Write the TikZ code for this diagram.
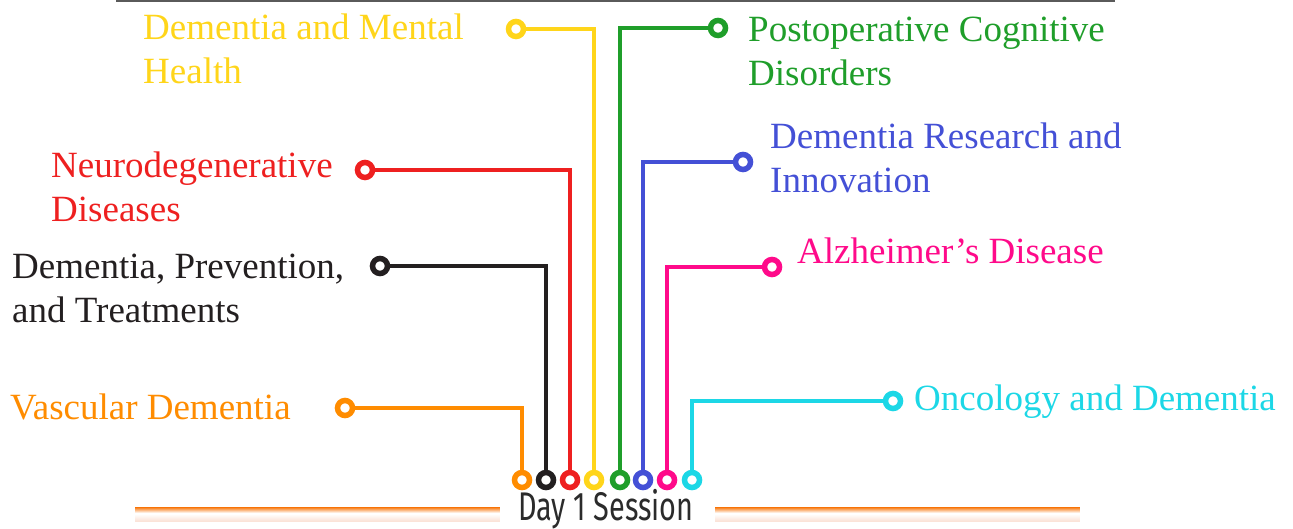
\documentclass[tikz,border=0pt]{standalone}
\usepackage{fontspec}
\setmainfont{Liberation Serif}
\newfontfamily\dayfont[FakeStretch=0.72]{Fira Sans}
\usetikzlibrary{positioning}

\definecolor{dorange}{HTML}{FF8C00}
\definecolor{dblack}{HTML}{231F20}
\definecolor{dred}{HTML}{EE2020}
\definecolor{dyellow}{HTML}{FFD51A}
\definecolor{dgreen}{HTML}{1F9E2A}
\definecolor{dblue}{HTML}{4450D6}
\definecolor{dpink}{HTML}{FF0A8A}
\definecolor{dcyan}{HTML}{1CD7E6}
\definecolor{barorange}{HTML}{F87306}
\definecolor{barpeach}{HTML}{FBE3D8}
\definecolor{rulegray}{HTML}{5A5A5A}
\definecolor{daygray}{HTML}{2B2B2B}

\begin{document}
\begin{tikzpicture}[x=1pt, y=-1pt]
  % Define styles
  \tikzset{
    stopdot/.style={circle, draw=#1, fill=white, line width=5.5pt, minimum size=15pt, inner sep=0pt},
    track/.style={draw=#1, line width=4pt},
    topic/.style={text=#1, anchor=base west, align=left, inner sep=0pt,
                  font=\fontsize{37}{44}\selectfont},
  }
  \useasboundingbox (0,0) rectangle (1293,529);

  % Top rule
  \draw[rulegray, line width=1.5pt] (116,1) -- (1115,1);
  % Bottom bars, one strip per pixel: orange fading to white, then peach
  \foreach \i in {0,...,14}{
    \pgfmathtruncatemacro{\o}{max(0,100-17*\i)}
    \pgfmathtruncatemacro{\p}{max(0,min(100,(\i-7)*15))}
    \colorlet{stripc}{barpeach!\p!white}
    \fill[barorange!\o!stripc] (135,507+\i) rectangle (500,508+\i);
    \fill[barorange!\o!stripc] (715,507+\i) rectangle (1080,508+\i);
  }

  % Session title
  \node[text=daygray, font=\dayfont\fontsize{40}{44}\selectfont, anchor=base, inner sep=0pt] (day) at (606,520) {Day 1 Session};

  % Stops on the session line
  \foreach \name/\x/\col in {vasc/522/dorange, prev/546/dblack, neuro/570/dred, mental/594/dyellow,
                             postop/620/dgreen, research/643/dblue, alz/667/dpink, onco/692/dcyan}
      \node[stopdot=\col] (\name-b) at (\x,480) {};

  % Stops at the topics
  \node[stopdot=dorange] (vasc-t) at (345,408) {};
  \node[stopdot=dblack] (prev-t) at (380,266) {};
  \node[stopdot=dred] (neuro-t) at (365,170) {};
  \node[stopdot=dyellow] (mental-t) at (516,29) {};
  \node[stopdot=dgreen] (postop-t) at (718,28) {};
  \node[stopdot=dblue] (research-t) at (743,162) {};
  \node[stopdot=dpink] (alz-t) at (772,267) {};
  \node[stopdot=dcyan] (onco-t) at (893,401) {};

  % Tracks
  \foreach \name/\col in {vasc/dorange, prev/dblack, neuro/dred, mental/dyellow,
                          postop/dgreen, research/dblue, alz/dpink, onco/dcyan}
      \draw[track=\col] (\name-t) -| (\name-b);

  % Label topics (base is the last line)
  \node[topic=dorange] (vasc-l) at (10,419) {Vascular Dementia};
  \node[topic=dblack] (prev-l) at (12,323) {Dementia, Prevention,\\and Treatments};
  \node[topic=dred] (neuro-l) at (51,222) {Neurodegenerative\\Diseases};
  \node[topic=dyellow] (mental-l) at (143,84) {Dementia and Mental\\Health};
  \node[topic=dgreen] (postop-l) at (748,86) {Postoperative Cognitive\\Disorders};
  \node[topic=dblue] (research-l) at (770,193) {Dementia Research and\\Innovation};
  \node[topic=dpink] (alz-l) at (797,264) {Alzheimer’s Disease};
  \node[topic=dcyan] (onco-l) at (914,410) {Oncology and Dementia};
\end{tikzpicture}
\end{document}
